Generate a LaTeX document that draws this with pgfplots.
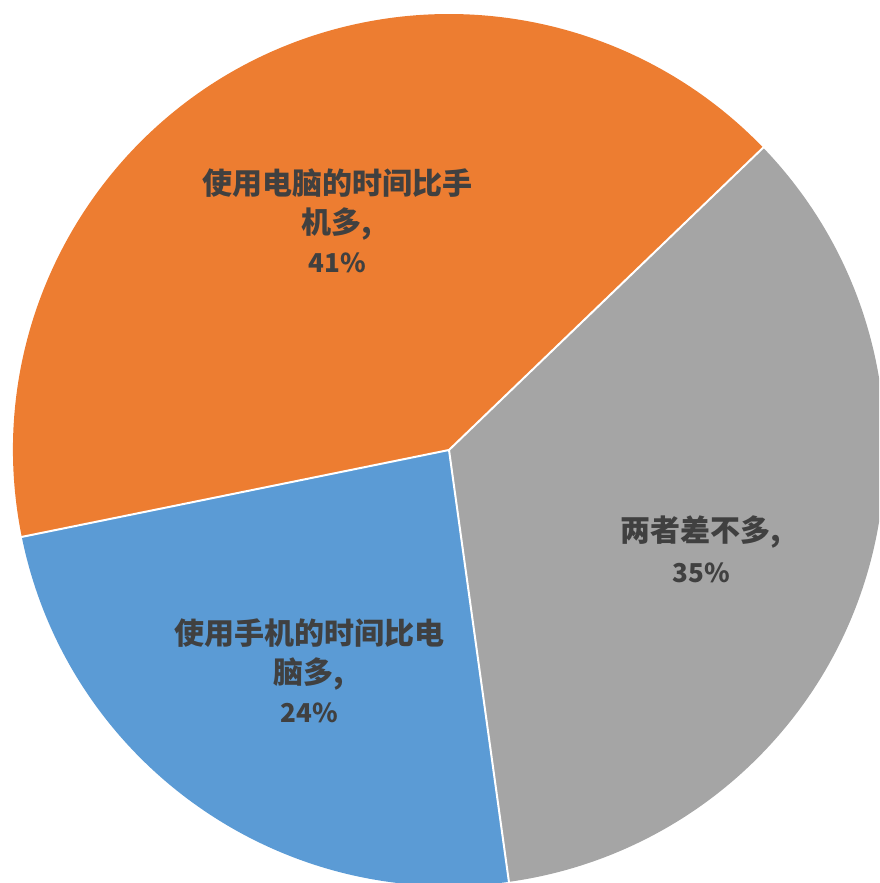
\documentclass[border=0pt]{standalone}
\usepackage{pgfplots}
\usepackage{fontspec}
\pgfplotsset{compat=1.18}
\newfontfamily\cjk{Noto Sans CJK SC}
\definecolor{sliceorange}{HTML}{ED7D31}
\definecolor{slicegray}{HTML}{A5A5A5}
\definecolor{sliceblue}{HTML}{5B9BD5}
\definecolor{labeltext}{HTML}{404040}
\newcommand\pct[1]{{\fontsize{13pt}{19.5pt}\selectfont #1\%}}

% shares in clockwise order, starting at 43.9 deg
\pgfmathsetmacro\aA{43.9}
\pgfmathsetmacro\aB{\aA-35*3.6}
\pgfmathsetmacro\aC{\aB-24*3.6}
\pgfmathsetmacro\aD{\aC-41*3.6}

\begin{document}
\begin{tikzpicture}
\begin{axis}[
    hide axis,
    scale only axis,
    width=439.5pt, height=441.5pt,
    xmin=-449, xmax=430,
    ymin=-433, ymax=450,
    clip=true,
]
\fill[slicegray] (axis cs:0,0) -- (axis cs:{436*cos(\aA)},{436*sin(\aA)})
    arc[start angle=\aA, end angle=\aB, radius=218pt] -- cycle;
\fill[sliceblue] (axis cs:0,0) -- (axis cs:{436*cos(\aB)},{436*sin(\aB)})
    arc[start angle=\aB, end angle=\aC, radius=218pt] -- cycle;
\fill[sliceorange] (axis cs:0,0) -- (axis cs:{436*cos(\aC)},{436*sin(\aC)})
    arc[start angle=\aC, end angle=\aD, radius=218pt] -- cycle;
\draw[white, line width=1pt] (axis cs:0,0) -- (axis cs:{437*cos(\aA)},{437*sin(\aA)});
\draw[white, line width=1pt] (axis cs:0,0) -- (axis cs:{437*cos(\aB)},{437*sin(\aB)});
\draw[white, line width=1pt] (axis cs:0,0) -- (axis cs:{437*cos(\aC)},{437*sin(\aC)});

\node[align=center, text=labeltext, font=\cjk\bfseries\fontsize{15pt}{19.5pt}\selectfont]
    at (axis cs:-112,229) {使用电脑的时间比手\\机多,\\\pct{41}};
\node[align=center, text=labeltext, font=\cjk\bfseries\fontsize{15pt}{20.5pt}\selectfont]
    at (axis cs:252,-99) {两者差不多,\\\pct{35}};
\node[align=center, text=labeltext, font=\cjk\bfseries\fontsize{15pt}{19.5pt}\selectfont]
    at (axis cs:-140,-221) {使用手机的时间比电\\脑多,\\\pct{24}};
\end{axis}
\end{tikzpicture}
\end{document}
